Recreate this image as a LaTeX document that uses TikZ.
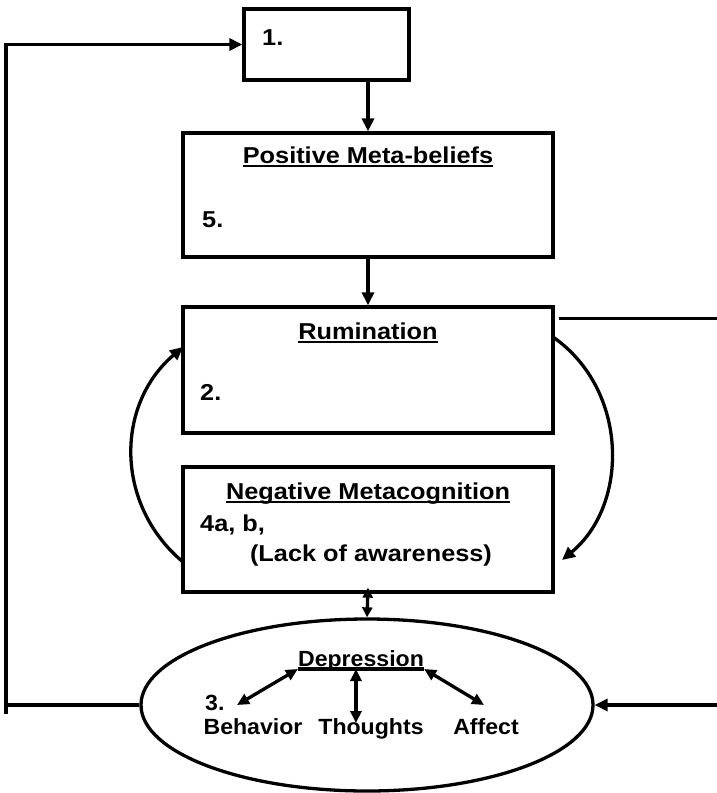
\documentclass[tikz,border=0pt]{standalone}
\usepackage{fontspec}
\setmainfont{Liberation Sans}
\newfontfamily\boxfont{Liberation Sans}[FakeStretch=1.1]
\newfontfamily\ovalfont{Liberation Sans}[FakeStretch=1.05]
\usetikzlibrary{arrows.meta,calc,shapes.geometric}

\tikzset{
  base/.style={line width=3.3pt, draw=black},
  box/.style={base, rectangle, inner sep=0pt},
  lbl/.style={inner sep=0pt, font=\boxfont\fontsize{23}{27}\selectfont\bfseries},
  olbl/.style={inner sep=0pt, font=\ovalfont\fontsize{22}{26}\selectfont\bfseries},
  tip/.style={-{Triangle[length=13pt,width=12pt]}},
  dtip/.style={{Triangle[length=12pt,width=11pt]}-{Triangle[length=12pt,width=11pt]}},
  stip/.style={{Triangle[length=10pt,width=10pt]}-{Triangle[length=10pt,width=10pt]}},
  wire/.style={line width=3.3pt},
  ulw/.style={line width=2.6pt},
}
\newcommand{\ulnode}[1]{\draw[ulw] ([yshift=-3pt]#1.base west) -- ([yshift=-3pt]#1.base east);}

\begin{document}
\begin{tikzpicture}[x=1pt,y=-1pt]
  \useasboundingbox (0,0) rectangle (717,793);

  % boxes
  \node[box, minimum width=165pt, minimum height=71pt] (box1) at (326.5,44.5) {};
  \node[box, minimum width=370pt, minimum height=124pt] (pos) at (368,195) {};
  \node[box, minimum width=370pt, minimum height=126pt] (rum) at (368,370) {};
  \node[box, minimum width=370pt, minimum height=125pt] (neg) at (368,529.5) {};
  \node[base, ellipse, minimum width=452pt, minimum height=172pt, inner sep=0pt] (dep) at (367,705) {};

  % box texts
  \node[lbl, anchor=base west] (t1) at (262,45) {1.};
  \node[lbl, anchor=base] (tpos) at (368,163) {Positive Meta-beliefs};
  \ulnode{tpos}
  \node[lbl, anchor=base west] (t5) at (202,227) {5.};
  \node[lbl, anchor=base] (trum) at (368,339) {Rumination};
  \ulnode{trum}
  \node[lbl, anchor=base west] (t2) at (200,400) {2.};
  \node[lbl, anchor=base] (tneg) at (368,499) {Negative Metacognition};
  \ulnode{tneg}
  \node[lbl, anchor=base west] (t4) at (200,531) {4a, b,};
  \node[lbl, anchor=base] (tlack) at (371,561) {(Lack of awareness)};

  % depression ellipse contents
  \node[olbl, anchor=base] (tdep) at (361,666) {Depression};
  \node[olbl, anchor=base west] (t3) at (205,710) {3.};
  \node[olbl, anchor=base] (tbeh) at (253,734) {Behavior};
  \node[olbl, anchor=base] (ttho) at (371,734) {Thoughts};
  \node[olbl, anchor=base] (taff) at (486,734) {Affect};

  \coordinate (ul) at ([yshift=-3pt]tdep.base west);
  \coordinate (ur) at ([yshift=-3pt]tdep.base east);
  \coordinate (um) at ($(ul)!0.46!(ur)$);
  \coordinate (pb) at (237,705);
  \coordinate (pt) at (um |- 0,723);
  \coordinate (pa) at (484,705);
  \draw[wire] (ul) -- (ur);
  \draw[wire, dtip] (ul) -- (pb);
  \draw[wire, dtip] (um) -- (pt);
  \draw[wire, dtip] (ur) -- (pa);

  % vertical flow
  \draw[wire, tip] (pos.north |- box1.south) -- (pos.north);
  \draw[wire, tip] (pos.south) -- (rum.north);
  \coordinate (nb) at ($(neg.south)+(0,-6)$);
  \draw[wire, stip] (nb) -- (dep.north);

  % loops between rumination and negative metacognition
  \coordinate (la) at (183,562);
  \coordinate (lb) at (183,347);
  \draw[wire, tip] (la) .. controls (115,505) and (115,405) .. (lb);
  \coordinate (ra) at (553,337);
  \coordinate (rb) at (562,560);
  \draw[wire, tip] (ra) .. controls (629,390) and (629,505) .. (rb);

  % outer feedback lines
  \coordinate (fbot) at (6,714);
  \coordinate (ftop) at (6,44.5);
  \draw[wire] (dep.west) -- (dep.west -| fbot);
  \draw[wire, tip] (fbot) -- (ftop) -- (box1.west);

  \coordinate (redge) at (717,705);
  \coordinate (rs) at ($(rum.north east)+(4,13)$);
  \draw[wire] (rs) -- (rs -| redge);
  \draw[wire, tip] (redge) -- (dep.east);
\end{tikzpicture}
\end{document}
